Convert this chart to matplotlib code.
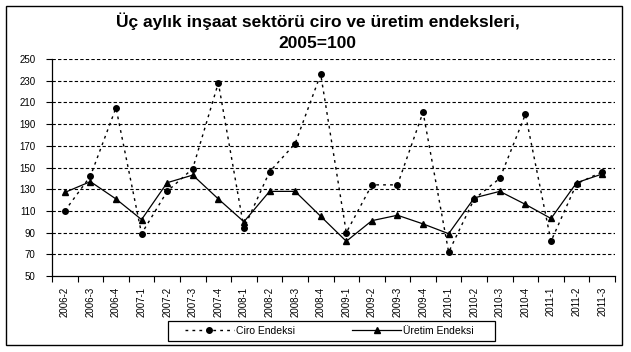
import matplotlib
matplotlib.use("Agg")
import matplotlib.pyplot as plt
from matplotlib.patches import Rectangle

plt.rcParams["font.family"] = ["Liberation Sans", "DejaVu Sans"]

# quarters shown on the x axis
quarters = ["2006-2", "2006-3", "2006-4", "2007-1", "2007-2", "2007-3", "2007-4",
            "2008-1", "2008-2", "2008-3", "2008-4", "2009-1", "2009-2", "2009-3",
            "2009-4", "2010-1", "2010-2", "2010-3", "2010-4", "2011-1", "2011-2",
            "2011-3"]

# turnover index
ciro = [110, 142, 205, 89, 128, 149, 228, 94, 146, 172, 236, 90, 134, 134,
        201, 72, 121, 140, 199, 82, 135, 146]

# production index
uretim = [127, 137, 121, 102, 136, 143, 121, 100, 128, 128, 105, 82, 101, 106,
          98, 89, 122, 128, 116, 103, 136, 144]

y_ticks = list(range(50, 251, 20))

fig = plt.figure(figsize=(6.31, 3.52), dpi=100)
ax = fig.add_axes([52 / 631, 1 - 276 / 352, 563 / 631, 217 / 352])

x = list(range(len(quarters)))

# horizontal dashed grid
for v in y_ticks[1:]:
    ax.axhline(v, color="black", linestyle=(0, (3, 2)), linewidth=0.8, zorder=1)

ax.plot(x, ciro, color="black", linestyle=(0, (2, 3)), linewidth=1.0,
        marker="o", markersize=4, label="Ciro Endeksi", zorder=3)
ax.plot(x, uretim, color="black", linestyle="-", linewidth=0.9,
        marker="^", markersize=5, label="Üretim Endeksi", zorder=3)

ax.set_ylim(50, 250)
ax.set_xlim(-0.5, len(quarters) - 0.5)
ax.set_yticks(y_ticks)
ax.tick_params(axis="y", labelsize=7, length=4, width=0.8, direction="out", pad=8)

# category labels in the middle, tick marks on the boundaries
ax.set_xticks(x)
ax.set_xticklabels(quarters, rotation=90, fontsize=7)
ax.tick_params(axis="x", which="major", length=0, pad=8)
ax.set_xticks([i - 0.5 for i in range(len(quarters) + 1)], minor=True)
ax.tick_params(axis="x", which="minor", length=4, width=0.8, direction="out")

for side in ["top", "right"]:
    ax.spines[side].set_visible(False)
for side in ["left", "bottom"]:
    ax.spines[side].set_linewidth(0.9)

fig.text(0.503, 1 - 21 / 352, "Üç aylık inşaat sektörü ciro ve üretim endeksleri,",
         ha="center", va="center", fontsize=12.5, fontweight="bold")
fig.text(0.503, 1 - 44 / 352, "2005=100",
         ha="center", va="center", fontsize=12.5, fontweight="bold")

# legend without its own frame, box drawn separately
leg = fig.legend(loc="center left", ncol=2, fontsize=7.5, frameon=False,
                 bbox_to_anchor=(185 / 631, 1 - 331 / 352), borderpad=0,
                 borderaxespad=0, handlelength=4.7, handletextpad=0.2,
                 columnspacing=5.5)
fig.patches.append(Rectangle((168 / 631, 1 - 341 / 352), 327 / 631, 20 / 352,
                             transform=fig.transFigure, fill=False,
                             edgecolor="black", linewidth=0.9))

# outer frame around the chart
fig.patches.append(Rectangle((6 / 631, 1 - 345 / 352), 616 / 631, 339 / 352,
                             transform=fig.transFigure, fill=False,
                             edgecolor="black", linewidth=1.0))

fig.savefig("out.png", dpi=100)
plt.close(fig)
